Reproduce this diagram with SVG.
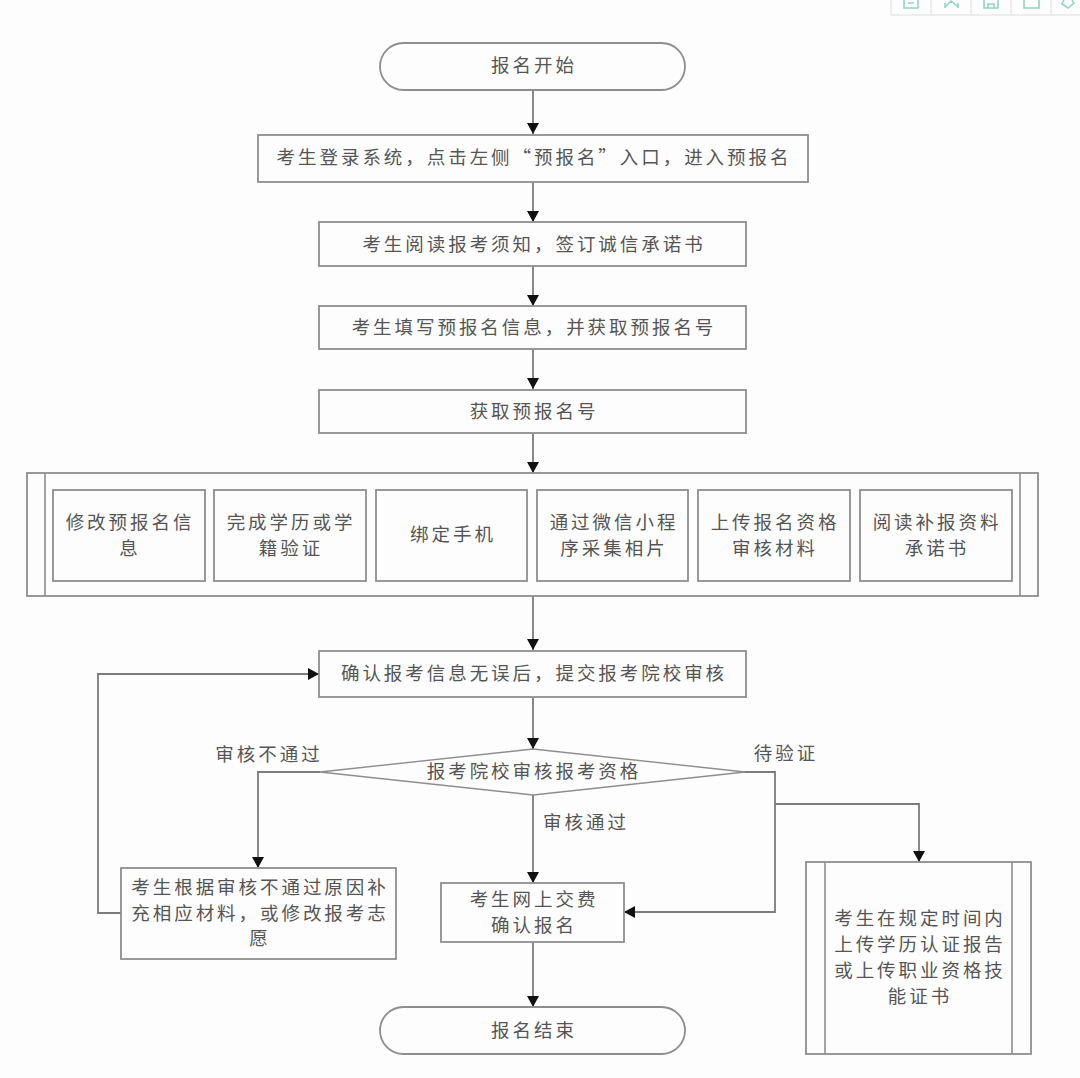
<svg xmlns="http://www.w3.org/2000/svg" width="1080" height="1078" viewBox="0 0 1080 1078">
<style>
.s{fill:#fdfdfd;stroke:#8e8e8e;stroke-width:1.8}
.d{fill:#fdfdfd;stroke:#8e8e8e;stroke-width:1.4}
.l{fill:none;stroke:#8e8e8e;stroke-width:1.6}
.c{fill:none;stroke:#7c7c7c;stroke-width:1.8}
.t{font-family:"Noto Sans CJK SC","Noto Sans",sans-serif;font-size:18.5px;fill:#555;text-anchor:middle;letter-spacing:2.95px}
.i{fill:none;stroke:#8fd8bf;stroke-width:1.6}
</style>
<defs>
<marker id="a" markerUnits="userSpaceOnUse" markerWidth="13" markerHeight="13" refX="11" refY="6.5" orient="auto"><path d="M0 0.5L11 6.5L0 12.5Z" fill="#111"/></marker>
</defs>
<rect width="1080" height="1078" fill="#fdfdfd"/>
<g id="toolbar">
<path d="M891 0V15H1080M931 0V15M971 0V15M1011 0V15M1051 0V15" fill="none" stroke="#ddd" stroke-width="1"/>
<path class="i" d="M904 0V8H918V0M908 3H914"/>
<path class="i" d="M945 7L951 1L958 7M945 3V8M958 3V8"/>
<path class="i" d="M984 0V8H998V0M988 8V4H994V8"/>
<path class="i" d="M1024 0V8H1039V0"/>
<path class="i" d="M1064 0L1062 4L1068 8L1074 3L1072 0"/>
</g>
<g id="connectors">
<path class="c" marker-end="url(#a)" d="M533 90V134"/>
<path class="c" marker-end="url(#a)" d="M533 182V222"/>
<path class="c" marker-end="url(#a)" d="M533 266V306"/>
<path class="c" marker-end="url(#a)" d="M533 349V389"/>
<path class="c" marker-end="url(#a)" d="M533 433V473"/>
<path class="c" marker-end="url(#a)" d="M533 596V650"/>
<path class="c" marker-end="url(#a)" d="M533 697V749"/>
<path class="c" marker-end="url(#a)" d="M533 795V883"/>
<path class="c" marker-end="url(#a)" d="M533 942V1007"/>
<path class="c" marker-end="url(#a)" d="M320 772H258V868"/>
<path class="c" marker-end="url(#a)" d="M121 913H98V674H319"/>
<path class="c" marker-end="url(#a)" d="M735 772H775V912H624"/>
<path class="c" marker-end="url(#a)" d="M775 804H919V862"/>
</g>
<g id="start"><rect class="s" x="380" y="43" width="305" height="47" rx="23.5"/><text class="t" x="534" y="72">报名开始</text></g>
<g id="login"><rect class="s" x="258" y="135" width="550" height="47"/><text class="t" x="534" y="164">考生登录系统，点击左侧“预报名”入口，进入预报名</text></g>
<g id="read"><rect class="s" x="319" y="222" width="427" height="44"/><text class="t" x="534" y="251">考生阅读报考须知，签订诚信承诺书</text></g>
<g id="fill"><rect class="s" x="319" y="306" width="427" height="43"/><text class="t" x="534" y="334">考生填写预报名信息，并获取预报名号</text></g>
<g id="number"><rect class="s" x="319" y="390" width="427" height="43"/><text class="t" x="534" y="418">获取预报名号</text></g>
<g id="tasks">
<rect class="s" x="27" y="473" width="1011" height="123"/>
<path class="l" d="M45 473V596M1020 473V596"/>
</g>
<g id="task1"><rect class="s" x="53" y="490" width="152" height="91"/><text class="t" x="130" y="529">修改预报名信</text><text class="t" x="130" y="555">息</text></g>
<g id="task2"><rect class="s" x="214" y="490" width="152" height="91"/><text class="t" x="291" y="529">完成学历或学</text><text class="t" x="291" y="555">籍验证</text></g>
<g id="task3"><rect class="s" x="376" y="490" width="151" height="91"/><text class="t" x="453" y="541">绑定手机</text></g>
<g id="task4"><rect class="s" x="537" y="490" width="151" height="91"/><text class="t" x="614" y="529">通过微信小程</text><text class="t" x="614" y="555">序采集相片</text></g>
<g id="task5"><rect class="s" x="698" y="490" width="152" height="91"/><text class="t" x="775" y="529">上传报名资格</text><text class="t" x="775" y="555">审核材料</text></g>
<g id="task6"><rect class="s" x="860" y="490" width="152" height="91"/><text class="t" x="937" y="529">阅读补报资料</text><text class="t" x="937" y="555">承诺书</text></g>
<g id="confirm"><rect class="s" x="319" y="651" width="427" height="46"/><text class="t" x="534" y="680">确认报考信息无误后，提交报考院校审核</text></g>
<g id="review"><polygon class="d" points="533,749 745,772 533,795 320,772"/><text class="t" x="534" y="778">报考院校审核报考资格</text></g>
<g id="fail"><rect class="s" x="121" y="868" width="275" height="91"/><text class="t" x="260" y="894">考生根据审核不通过原因补</text><text class="t" x="260" y="920">充相应材料，或修改报考志</text><text class="t" x="260" y="945">愿</text></g>
<g id="pay"><rect class="s" x="441" y="883" width="183" height="59"/><text class="t" x="534" y="906">考生网上交费</text><text class="t" x="534" y="932">确认报名</text></g>
<g id="verify">
<rect class="s" x="806" y="862" width="225" height="192"/>
<path class="l" d="M825 862V1054M1012 862V1054"/>
<text class="t" x="920" y="925">考生在规定时间内</text><text class="t" x="920" y="951">上传学历认证报告</text><text class="t" x="920" y="977">或上传职业资格技</text><text class="t" x="920" y="1003">能证书</text>
</g>
<g id="end"><rect class="s" x="380" y="1007" width="305" height="47" rx="23.5"/><text class="t" x="534" y="1037">报名结束</text></g>
<g id="labels">
<text class="t" x="269" y="761">审核不通过</text>
<text class="t" x="586" y="829">审核通过</text>
<text class="t" x="786" y="760">待验证</text>
</g>
</svg>
